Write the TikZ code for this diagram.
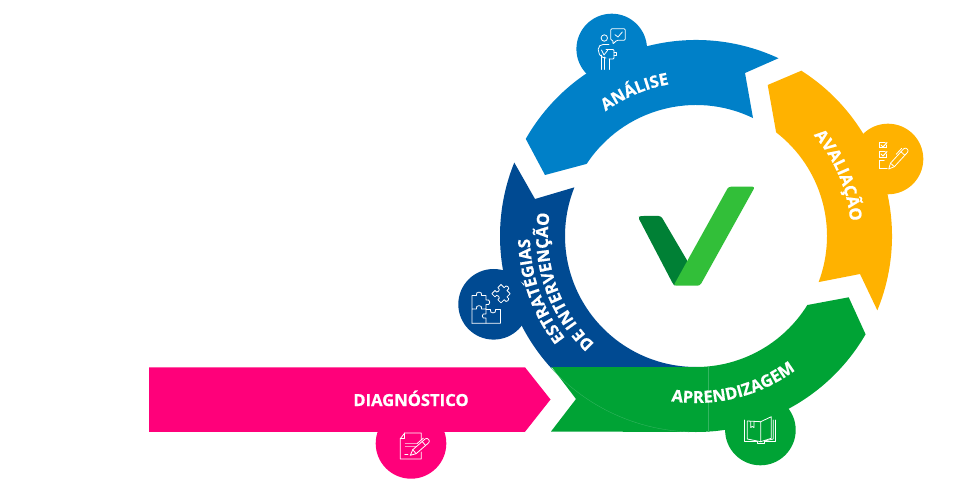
\documentclass[tikz,border=0pt]{standalone}
\usepackage{fontspec}
\setmainfont{Open Sans}[BoldFeatures={FakeBold=0.6}]
\usetikzlibrary{decorations.text}
\definecolor{cpink}{HTML}{FF007A}
\definecolor{cblue}{HTML}{0080C8}
\definecolor{cnavy}{HTML}{004A92}
\definecolor{cgold}{HTML}{FFB200}
\definecolor{cgreen}{HTML}{00A335}
\definecolor{cseam}{HTML}{35B561}
\definecolor{cdark}{HTML}{008035}
\definecolor{clight}{HTML}{32BF39}
\tikzset{
  iconline/.style={draw=white,line width=0.8pt,line join=round,line cap=round,fill=none},
  arclabel/.style={decorate,decoration={text along path,text align=center,text={#1}}}
}
\newcommand{\lblf}{\fontsize{16.6}{20}\selectfont\bfseries\color{white}}
\newcommand{\pentool}[4]{%
  \begin{scope}[shift={(#1,#2)},rotate=#3]
    \draw[iconline] (0,0) -- (5.5,-2.6) -- (#4-3,-2.6) .. controls (#4,-2.6) and (#4,2.6) .. (#4-3,2.6) -- (5.5,2.6) -- cycle;
    \draw[iconline] (5.5,-2.6) -- (5.5,2.6) (#4-7,-2.6) -- (#4-7,2.6) (#4-12,-4.4) -- (#4-4,-4.4);
  \end{scope}}
\begin{document}
\begin{tikzpicture}[x=1pt,y=1pt]
\useasboundingbox (0,0) rectangle (960,493);
% ring, coordinates relative to its centre
\begin{scope}[shift={(696,257)}]
  % Navy
  \fill[cnavy] (158:196) arc[start angle=158,end angle=222.2,radius=196]
     -- (270:131) arc[start angle=270,end angle=158.2,radius=131]
     -- (-161,37) -- cycle;
  % Blue
  \fill[cblue] (150.3:196) arc[start angle=150.3,end angle=65.1,radius=196]
     -- (49,163) -- (64.2:131) arc[start angle=64.2,end angle=146.6,radius=131]
     -- (-151,61) -- cycle;
  % Gold
  \fill[cgold] (57.5:196) arc[start angle=57.5,end angle=-22.3,radius=196]
     -- (164,-38) -- (-20.6:131) arc[start angle=-20.6,end angle=52.3,radius=131]
     -- (71.7,151) -- cycle;
  % Green
  \fill[cgreen] (152.7,-61.3) -- (-30.1:196) arc[start angle=-30.1,end angle=-90,radius=196]
     -- (-145,-195.5) -- (-120,-163) -- (-144.3,-131) -- (270:131)
     arc[start angle=270,end angle=328.2,radius=131] -- cycle;
  \draw[cseam,line width=0.35pt] (222.2:196) arc[start angle=222.2,end angle=268,radius=196];
  \draw[cseam,line width=0.35pt] (11.7,-130.6) -- (11.7,-195.6);
  % curved labels
  \path[arclabel={|\lblf|ANÁLISE}] (143:154) arc[start angle=143,end angle=83,radius=154];
  \path[arclabel={|\lblf|AVALIAÇÃO}] (53:155) arc[start angle=53,end angle=-7,radius=155];
  \path[arclabel={|\lblf|ESTRATÉGIAS}] (229:166) arc[start angle=229,end angle=170,radius=166];
  \path[arclabel={|\lblf|DE INTERVENÇÃO}] (240:148) arc[start angle=240,end angle=158,radius=148];
  \path[arclabel={|\lblf|APRENDIZAGEM}] (-106:167) arc[start angle=-106,end angle=-46,radius=167];
\end{scope}
% badges and arrow: pixel coordinates
\begin{scope}[shift={(0,493)},yscale=-1]
  \fill[cblue] (611.7,49) circle[radius=35.3];
  \fill[cgold] (888,159) circle[radius=35.3];
  \fill[cnavy] (493.6,304.3) circle[radius=35.3];
  \fill[cgreen] (760.4,430) circle[radius=35.3];
  \fill[cpink] (411,443.4) circle[radius=35.3];
  \fill[cpink] (149,367.3) -- (525,367.3) -- (550.5,399.5) -- (525,431.8) -- (149,431.8) -- cycle;
  % tick
  \fill[cdark,rounded corners=2.5pt] (638,217) -- (641,216) -- (661,216) -- (688,262) -- (675,286) -- (673,284) -- cycle;
  \fill[clight,rounded corners=2.5pt] (728.5,186.7) -- (755,186.7) -- (700,285.7) -- (673.5,285.7) -- cycle;
  % analysis icon
  \draw[iconline] (604.3,38) circle[radius=3.2];
  \draw[iconline,rounded corners=1.2pt] (613.3,40.3) -- (610.7,40.3) -- (610.7,28.7) -- (625.3,28.7) -- (625.3,40.3) -- (616.7,40.3) -- (612.6,44.3) -- cycle;
  \draw[iconline] (615,34.7) -- (618,37) -- (622.3,32);
  \draw[iconline,rounded corners=2pt] (609,44.5) -- (601,44.5) -- (598.3,47) -- (598.3,52) -- (601,57) -- (606,58);
  \draw[iconline] (601,55) -- (601,69.5) (604.5,57) -- (604.5,69.5) (609,59) -- (609,69.5);
  \draw[iconline,rounded corners=1pt] (606,49.5) -- (614,49.5) -- (614,59) -- (609,59);
  \draw[iconline] (614,52) -- (616.5,52) -- (616.5,55) -- (614,55);
  \draw[iconline] (601.5,50) -- (604,55) -- (607.5,50.5);
  % checklist icon
  \begin{scope}[line width=1pt]
  \draw[draw=white,line cap=round] (886,145) -- (886,148) -- (879.3,148) -- (879.3,143) -- (885,143);
  \draw[draw=white,line cap=round] (886,154) -- (886,157.3) -- (879.3,157.3) -- (879.3,152) -- (885,152);
  \draw[draw=white,line cap=round] (884,160.7) -- (879.3,160.7) -- (879.3,169) -- (887,169);
  \draw[draw=white,line cap=round] (881,145) -- (883,147) -- (887,142.5);
  \draw[draw=white,line cap=round] (881,154) -- (883,156) -- (887,151.5);
  \end{scope}
  \pentool{888.7}{169}{-47.5}{28}
  % puzzle icon
  \draw[iconline] (472,323.2) -- (472,295.5) -- (476.5,295.5) .. controls (474.5,291) and (483.5,291) .. (481.5,295.5) -- (486,295.5) -- (486,300) .. controls (491,298) and (491,306.5) .. (486,304.5) -- (486,309) -- (481.5,309) .. controls (483.5,304.5) and (474.5,304.5) .. (476.5,309) -- (472,309);
  \draw[iconline] (486,309) -- (486,314) .. controls (481,312) and (481,320) .. (486,318) -- (486,323.2);
  \draw[iconline] (472,323.2) -- (500.5,323.2) -- (500.5,309.5) -- (495.5,309.5) .. controls (497.5,314) and (488.5,314) .. (490.5,309.5) -- (486,309.5);
  \begin{scope}[shift={(501,293.7)},rotate=45]
    \draw[iconline] (-6.5,-6.5) -- (-2,-6.5) .. controls (-4,-11) and (4,-11) .. (2,-6.5) -- (6.5,-6.5) -- (6.5,-2) .. controls (11,-4) and (11,4) .. (6.5,2) -- (6.5,6.5) -- (2,6.5) .. controls (4,2.5) and (-4,2.5) .. (-2,6.5) -- (-6.5,6.5) -- (-6.5,2) .. controls (-2.5,4) and (-2.5,-4) .. (-6.5,-2) -- cycle;
  \end{scope}
  % book icon
  \draw[iconline] (744.7,420) -- (744.7,441.7) -- (757.3,441.7) -- (757.3,443.3) -- (764,443.3) -- (764,441.7) -- (775.3,441.7) -- (775.3,420);
  \draw[iconline] (747.3,421) -- (747.3,439) -- (760.7,441.7) -- (760.7,421.7) -- (747.3,421);
  \draw[iconline] (760.7,421.7) -- (771.3,416.7) -- (771.3,438.3) -- (760.7,441.7);
  \draw[iconline] (773.3,420) -- (773.3,439) -- (764,441);
  \draw[iconline] (750.7,421.5) -- (750.7,427.5) -- (752.3,426.5) -- (754,427.5) -- (754,421.5);
  % document icon
  \draw[iconline] (421.3,440) -- (421.3,433) -- (404.7,433) -- (400.3,438.7) -- (400.3,459) -- (421.3,459) -- (421.3,452);
  \draw[iconline] (404.7,433) -- (404.7,438.7) -- (400.3,438.7);
  \draw[draw=white,opacity=.6,line width=1pt] (404.7,443) -- (418,443) (404.7,446.3) -- (416,446.3);
  \draw[iconline] (404.7,454.7) -- (408,454.7);
  \pentool{410.3}{455.3}{-41}{25}
  \node[font=\fontsize{16.6}{20}\selectfont\bfseries,text=white,anchor=base,inner sep=0pt] (diag) at (411,406) {DIAGNÓSTICO};
\end{scope}
\end{tikzpicture}
\end{document}
